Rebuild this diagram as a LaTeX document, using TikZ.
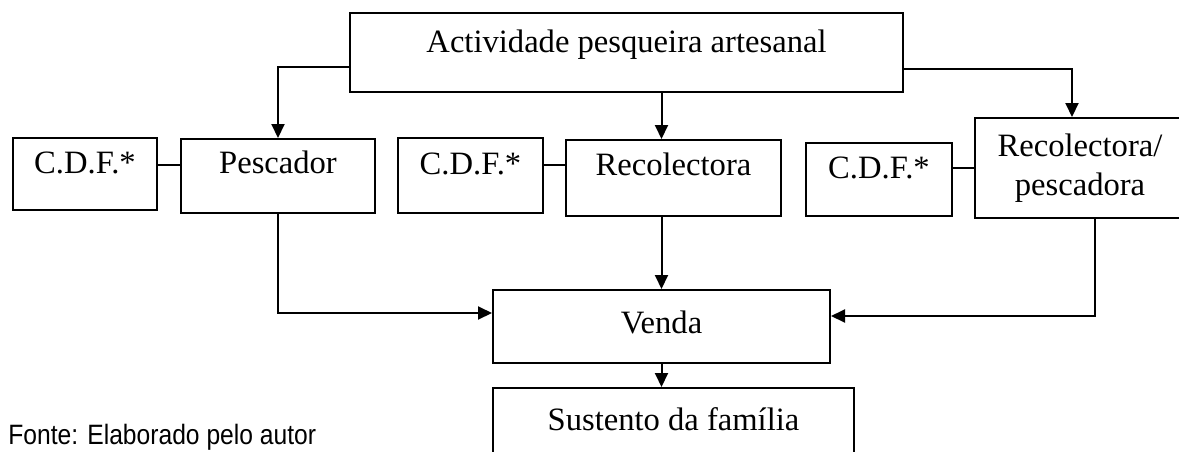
\documentclass[tikz,border=0pt]{standalone}
\usepackage{fontspec}
\setmainfont{Liberation Serif}
\newfontfamily\fontenarrow[FakeStretch=0.88]{Liberation Sans}
\usetikzlibrary{arrows.meta, positioning}
\tikzstyle{caixa} = [draw, line width=1pt, rectangle, inner sep=0pt, font=\fontsize{16.3}{19.5}\selectfont, align=center]
\tikzstyle{seta} = [line width=1pt, -{Triangle[width=6.5pt,length=7pt]}]
\tikzstyle{liga} = [line width=1pt]

\begin{document}
\begin{tikzpicture}[x=0.5pt, y=-0.5pt]
	\clip (0,0) rectangle (1179,451);
	% caixas
	\node [caixa, minimum width=276.5pt, minimum height=39.5pt, text height=11pt, text depth=11pt] (actividade) at (626.5,52.5) {Actividade pesqueira artesanal};
	\node [caixa, minimum width=72pt, minimum height=36pt, text height=11pt, text depth=12pt] (cdfA) at (85,174) {C.D.F.*};
	\node [caixa, minimum width=97pt, minimum height=37pt, text height=11pt, text depth=14pt] (pescador) at (278,176) {Pescador};
	\node [caixa, minimum width=72.5pt, minimum height=37.5pt, text height=11pt, text depth=12pt] (cdfB) at (470.5,175.5) {C.D.F.*};
	\node [caixa, minimum width=107.5pt, minimum height=38pt, text height=11pt, text depth=14pt] (recolectora) at (673.5,178) {Recolectora};
	\node [caixa, minimum width=73pt, minimum height=36.5pt, text height=11pt, text depth=12pt] (cdfC) at (879,179.5) {C.D.F.*};
	\node [caixa, minimum width=105pt, minimum height=50pt] (recpesc) at (1080,168) {Recolectora/\\pescadora};
	\node [caixa, minimum width=168.5pt, minimum height=36.5pt, text height=11pt, text depth=4.5pt] (venda) at (661.5,326.5) {Venda};
	\node [caixa, minimum width=180.5pt, minimum height=42pt, text height=11pt, text depth=11pt] (sustento) at (673.5,430) {Sustento da família};
	\node [anchor=base west, inner sep=0pt, font=\fontenarrow\fontsize{14}{16}\selectfont] (fonte) at (8,444) {Fonte: Elaborado pelo autor};
	% ligacoes
	\draw [seta] ([yshift=-7.25pt]actividade.west) -| (pescador.north);
	\draw [seta] (actividade.south -| venda.north) -- (recolectora.north -| venda.north);
	\draw [seta] ([yshift=-8.25pt]actividade.east) -| ([xshift=-4pt]recpesc.north);
	\draw [liga] ([yshift=4.5pt]cdfA.east) -- ([yshift=4.5pt]cdfA.east -| pescador.west);
	\draw [liga] ([yshift=5.25pt]cdfB.east) -- ([yshift=5.25pt]cdfB.east -| recolectora.west);
	\draw [liga] ([yshift=5.75pt]cdfC.east) -- ([yshift=5.75pt]cdfC.east -| recpesc.west);
	\draw [seta] (pescador.south) |- ([yshift=6.75pt]venda.west);
	\draw [seta] (recolectora.south -| venda.north) -- (venda.north);
	\draw [seta] ([xshift=7.5pt]recpesc.south) |- ([yshift=5.25pt]venda.east);
	\draw [seta] (venda.south) -- (sustento.north -| venda.south);
\end{tikzpicture}
\end{document}
